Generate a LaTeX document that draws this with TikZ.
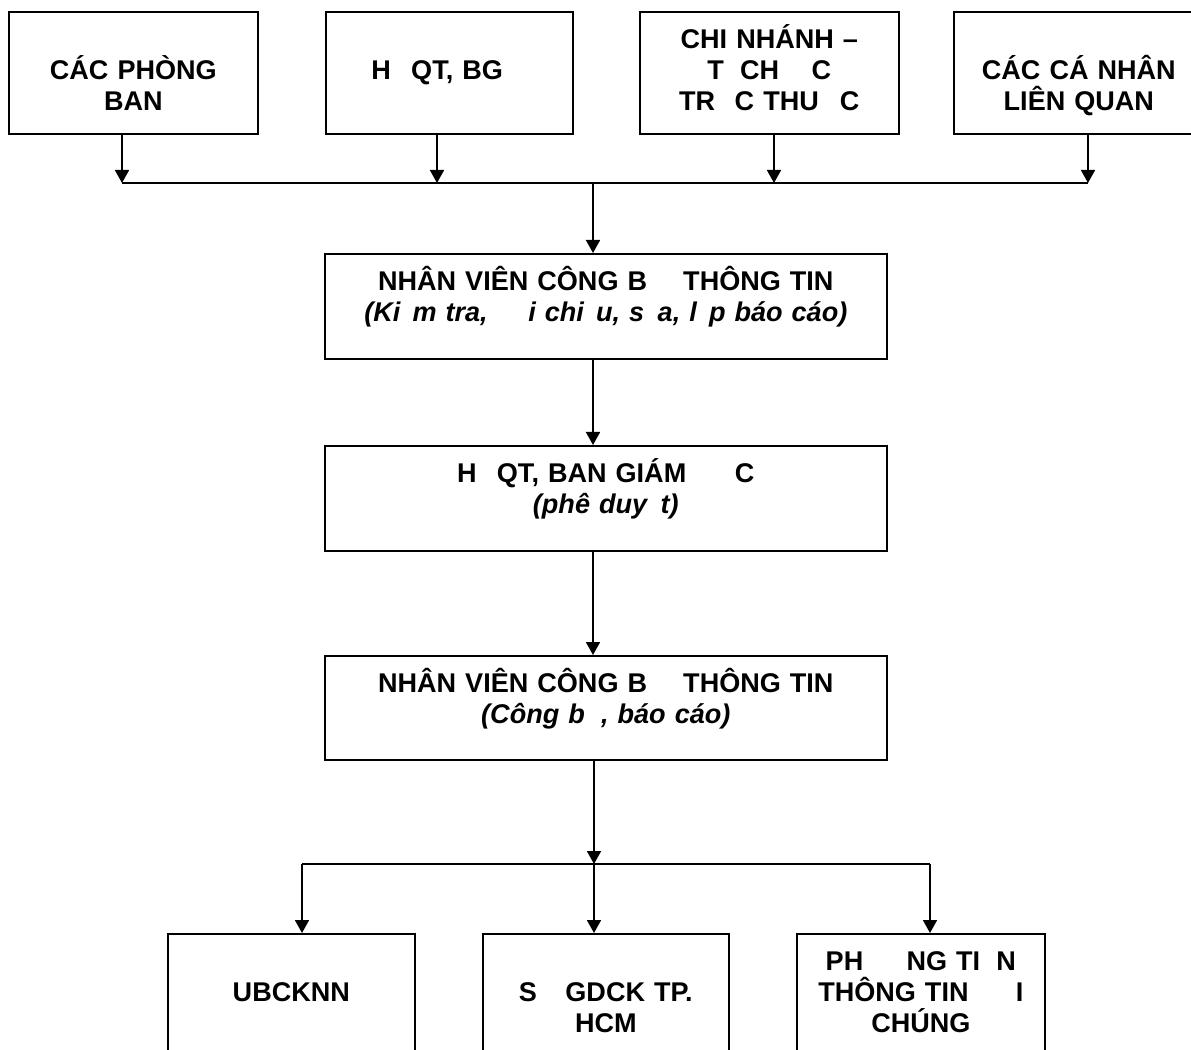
\documentclass[tikz,border=0pt]{standalone}
\usepackage{fontspec}
\setmainfont{Liberation Sans}
\usetikzlibrary{arrows.meta}
\tikzset{
  box/.style={draw, line width=1pt, anchor=north west, inner sep=0pt,
    align=center, font=\fontsize{15.4}{17.6}\selectfont\bfseries,
    text height=0.74cm, text width=#1},
  arr/.style={line width=1pt, -{Triangle[width=0.28cm,length=0.26cm]}},
  bus/.style={line width=1pt}
}
\begin{document}
\begin{tikzpicture}[x=0.02cm,y=-0.02cm]
\useasboundingbox (0,0) rectangle (1191,1050);
\clip (0,0) rectangle (1191,1050);

\node[box=4.98cm, text depth=1.70cm] (pb) at (8,11) {\mbox{}\\CÁC PHÒNG\\BAN};
\node[box=4.94cm, text depth=1.70cm] (hd) at (325,11) {\mbox{}\\H\hspace{.75em}QT, BG\rule{.9em}{0pt}};
\node[box=5.18cm, text depth=1.70cm] (cn) at (639,11) {CHI NHÁNH –\\T\hspace{.6em}CH\hspace{1.2em}C\\TR\hspace{.72em}C THU\hspace{.78em}C};
\node[box=5.00cm, text depth=1.70cm] (cc) at (953,11) {\mbox{}\\CÁC CÁ NHÂN\\LIÊN QUAN};

\node[box=11.24cm, text depth=1.36cm] (nv) at (324,253) {NHÂN VIÊN CÔNG B\hspace{1em} THÔNG TIN\\\textit{(Ki\hspace{.45em}m tra,\hspace{1.5em}i chi\hspace{.45em}u, s\hspace{.5em}a, l\hspace{.45em}p báo cáo)}};
\node[box=11.24cm, text depth=1.36cm] (pd) at (324,445) {H\hspace{.75em}QT, BAN GIÁM\hspace{1.8em}C\\\textit{(phê duy\hspace{.5em}t)}};
\node[box=11.24cm, text depth=1.34cm] (cb) at (324,655) {NHÂN VIÊN CÔNG B\hspace{1em} THÔNG TIN\\\textit{(Công b\hspace{.6em}, báo cáo)}};

\node[box=4.94cm, text depth=1.76cm] (ub) at (167,933) {\mbox{}\\UBCKNN};
\node[box=4.92cm, text depth=1.76cm] (sg) at (482,933) {\mbox{}\\S\hspace{1.05em}GDCK TP.\\HCM};
\node[box=4.96cm, text depth=1.76cm] (pt) at (796,933) {PH\hspace{1.6em}NG TI\hspace{.6em}N\\THÔNG TIN\hspace{1.75em}I\\CHÚNG};

\coordinate (a0) at (593,183);
\coordinate (a1) at (122,183);
\coordinate (a2) at (437,183);
\coordinate (a3) at (774,183);
\coordinate (a4) at (1088,183);
\foreach \b/\a in {pb/a1, hd/a2, cn/a3, cc/a4}
  \draw[arr] (\b.south -| \a) -- (\a);
\draw[bus] (a1) -- (a4);
\draw[arr] (a0) -- (a0 |- nv.north);
\draw[arr] (nv.south -| a0) -- (a0 |- pd.north);
\draw[arr] (pd.south -| a0) -- (a0 |- cb.north);

\coordinate (c0) at (594,864);
\coordinate (c1) at (302,864);
\coordinate (c3) at (930,864);
\draw[arr] (cb.south -| c0) -- (c0);
\draw[bus] (c1) -- (c3);
\foreach \a/\b in {c1/ub, c0/sg, c3/pt}
  \draw[arr] (\a) -- (\a |- \b.north);
\end{tikzpicture}
\end{document}
